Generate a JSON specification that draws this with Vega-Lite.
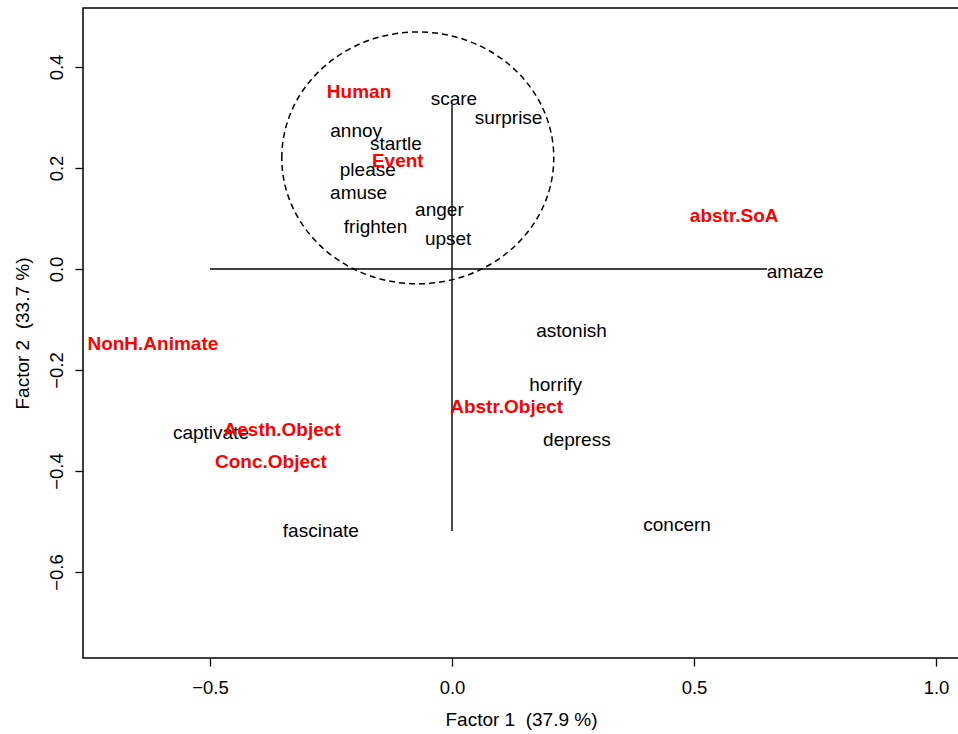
{
  "$schema": "https://vega.github.io/schema/vega-lite/v6.json",
  "width": 876,
  "height": 650,
  "autosize": {"type": "none"},
  "padding": {"left": 83, "top": 8, "right": 0, "bottom": 76},
  "background": "white",
  "config": {
    "view": {"stroke": "black", "strokeWidth": 1.5},
    "font": "Liberation Sans",
    "axis": {
      "domain": false,
      "grid": false,
      "tickColor": "black",
      "tickSize": 8,
      "tickWidth": 1.3,
      "labelColor": "black",
      "labelFontSize": 18.5,
      "labelFont": "Liberation Sans",
      "titleFont": "Liberation Sans",
      "titleFontSize": 19,
      "titleFontWeight": "normal",
      "titleColor": "black"
    }
  },
  "datasets": {
    "axislines": [
      {"x": -0.5, "x2": 0.651, "y": 0, "y2": 0},
      {"x": 0, "x2": 0, "y": 0.325, "y2": -0.519}
    ],
    "ellipse": [{"x": -0.0707, "y": 0.22}],
    "labels": [
      {"label": "scare", "x": 0.004, "y": 0.337, "kind": "row"},
      {"label": "surprise", "x": 0.117, "y": 0.298, "kind": "row"},
      {"label": "annoy", "x": -0.198, "y": 0.273, "kind": "row"},
      {"label": "startle", "x": -0.116, "y": 0.248, "kind": "row"},
      {"label": "please", "x": -0.174, "y": 0.197, "kind": "row"},
      {"label": "amuse", "x": -0.193, "y": 0.151, "kind": "row"},
      {"label": "anger", "x": -0.026, "y": 0.117, "kind": "row"},
      {"label": "frighten", "x": -0.158, "y": 0.084, "kind": "row"},
      {"label": "upset", "x": -0.008, "y": 0.059, "kind": "row"},
      {"label": "amaze", "x": 0.709, "y": -0.005, "kind": "row"},
      {"label": "astonish", "x": 0.247, "y": -0.123, "kind": "row"},
      {"label": "horrify", "x": 0.214, "y": -0.23, "kind": "row"},
      {"label": "depress", "x": 0.258, "y": -0.339, "kind": "row"},
      {"label": "concern", "x": 0.465, "y": -0.507, "kind": "row"},
      {"label": "captivate", "x": -0.498, "y": -0.325, "kind": "row"},
      {"label": "fascinate", "x": -0.271, "y": -0.518, "kind": "row"},
      {"label": "Human", "x": -0.192, "y": 0.351, "kind": "col"},
      {"label": "Event", "x": -0.112, "y": 0.213, "kind": "col"},
      {"label": "abstr.SoA", "x": 0.583, "y": 0.105, "kind": "col"},
      {"label": "NonH.Animate", "x": -0.618, "y": -0.149, "kind": "col"},
      {"label": "Abstr.Object", "x": 0.113, "y": -0.274, "kind": "col"},
      {"label": "Aesth.Object", "x": -0.351, "y": -0.319, "kind": "col"},
      {"label": "Conc.Object", "x": -0.374, "y": -0.382, "kind": "col"}
    ]
  },
  "encoding": {
    "x": {
      "field": "x",
      "type": "quantitative",
      "scale": {"domain": [-0.7624, 1.0475], "nice": false, "zero": false},
      "axis": {
        "values": [-0.5, 0, 0.5, 1],
        "format": ".1f",
        "labelPadding": 12,
        "titlePadding": 14,
        "title": "Factor 1\u00a0 (37.9 %)"
      }
    },
    "y": {
      "field": "y",
      "type": "quantitative",
      "scale": {"domain": [-0.7703, 0.5168], "nice": false, "zero": false},
      "axis": {
        "values": [-0.6, -0.4, -0.2, 0, 0.2, 0.4],
        "format": ".1f",
        "labelAngle": -90,
        "labelAlign": "center",
        "labelBaseline": "bottom",
        "labelPadding": 9,
        "titlePadding": 15,
        "title": "Factor 2\u00a0 (33.7 %)"
      }
    }
  },
  "layer": [
    {
      "data": {"name": "axislines"},
      "mark": {"type": "rule", "color": "black", "strokeWidth": 1.4},
      "encoding": {"x2": {"field": "x2"}, "y2": {"field": "y2"}}
    },
    {
      "data": {"name": "ellipse"},
      "mark": {
        "type": "point",
        "shape": "M -1 0 C -1 -0.5114 -0.5523 -0.926 0 -0.926 C 0.5523 -0.926 1 -0.5114 1 0 C 1 0.5114 0.5523 0.926 0 0.926 C -0.5523 0.926 -1 0.5114 -1 0 Z",
        "size": 73984,
        "filled": false,
        "stroke": "black",
        "strokeWidth": 1.5,
        "strokeDash": [6, 4],
        "opacity": 1
      }
    },
    {
      "data": {"name": "labels"},
      "transform": [{"filter": "datum.kind === 'row'"}],
      "mark": {"type": "text", "align": "center", "baseline": "middle", "fontSize": 19, "font": "Liberation Sans", "color": "black"},
      "encoding": {"text": {"field": "label"}}
    },
    {
      "data": {"name": "labels"},
      "transform": [{"filter": "datum.kind === 'col'"}],
      "mark": {"type": "text", "align": "center", "baseline": "middle", "fontSize": 19, "font": "Liberation Sans", "fontWeight": "bold", "color": "#ff0000"},
      "encoding": {"text": {"field": "label"}}
    }
  ]
}
